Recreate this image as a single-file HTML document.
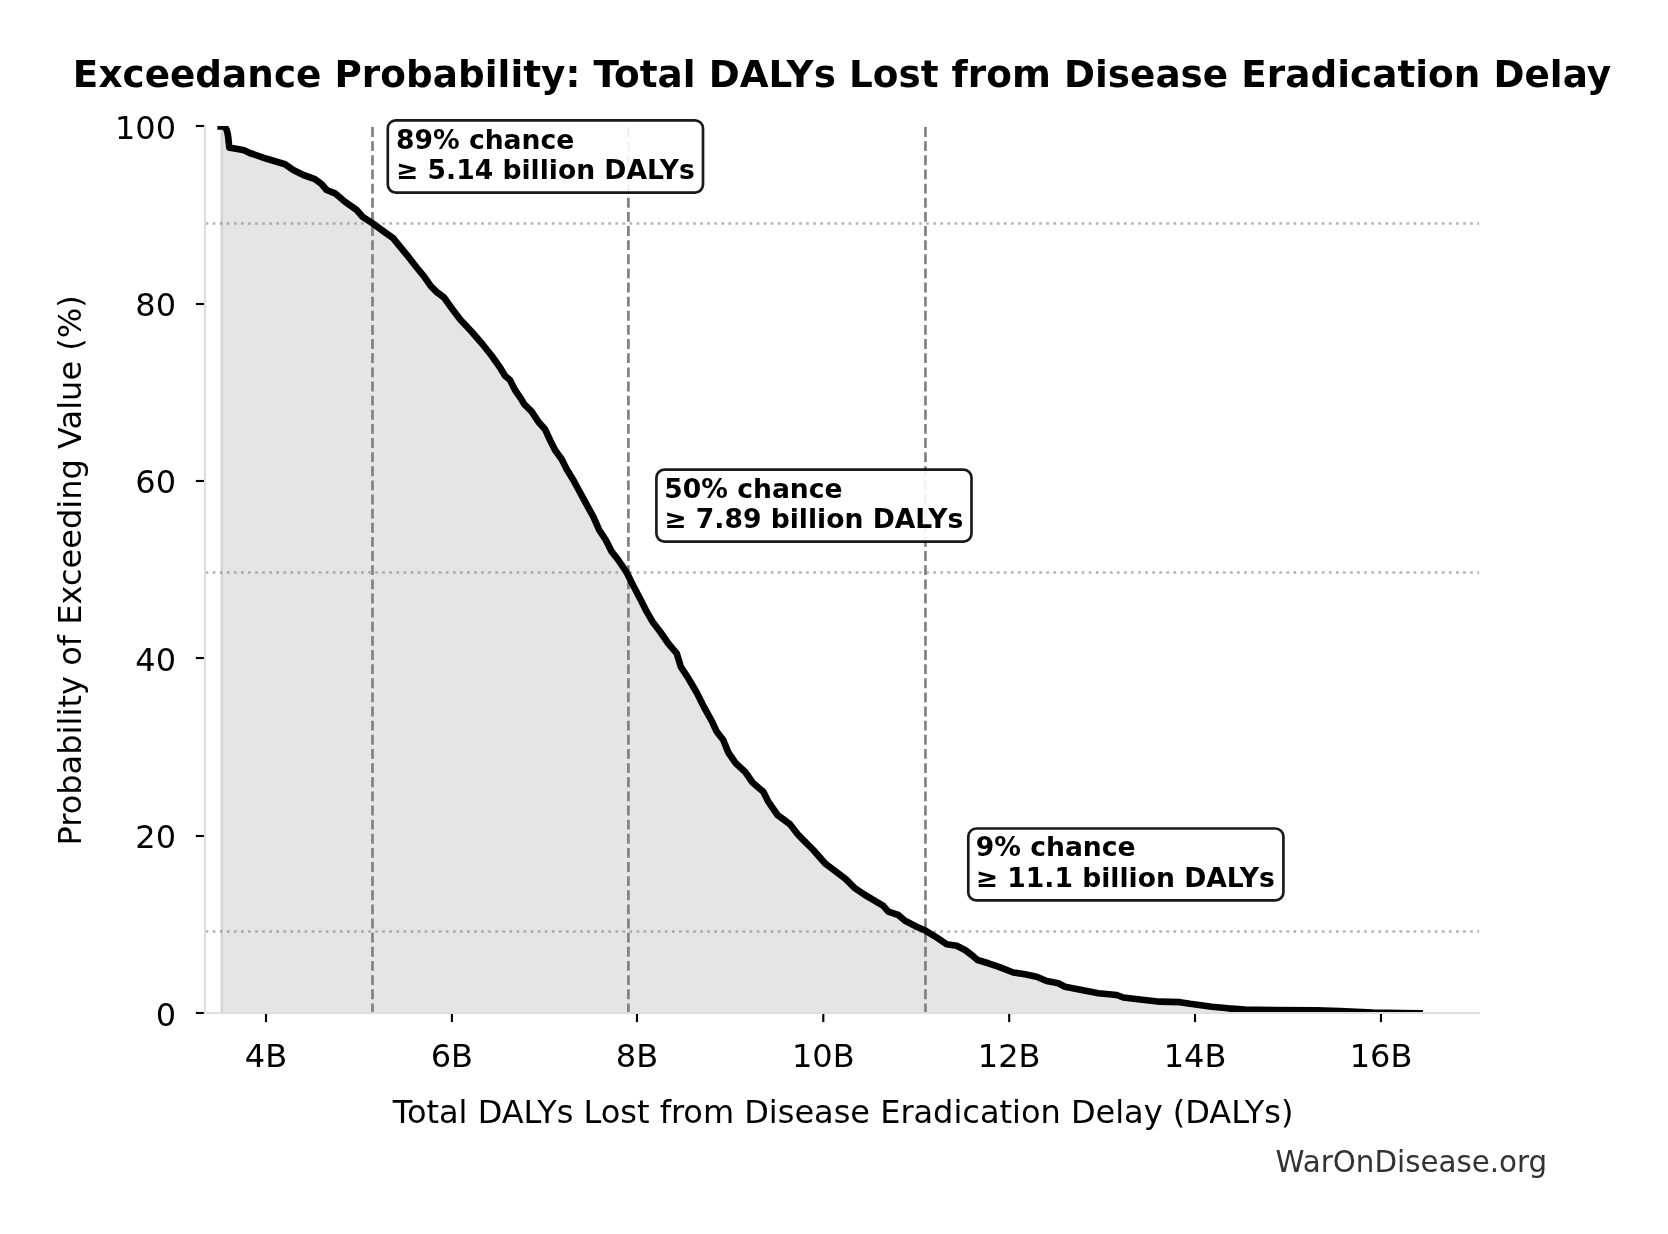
<!DOCTYPE html>
<html lang="en"><head><meta charset="utf-8">
<title>Exceedance Probability: Total DALYs Lost from Disease Eradication Delay</title>
<style>
html,body{margin:0;padding:0;background:#fff;}
body{width:1668px;height:1234px;overflow:hidden;}
svg{display:block;will-change:transform;}
text{font-family:"DejaVu Sans","Liberation Sans",sans-serif;fill:#000;}
.tk{font-size:32px;}
.lab{font-size:32px;}
.ann{font-size:26.6px;font-weight:bold;}
</style></head><body>
<svg width="1668" height="1234" viewBox="0 0 1668 1234">
<rect width="1668" height="1234" fill="#fff"/>
<defs><clipPath id="ax"><rect x="204.95" y="126.1" width="1274.95" height="886.9"/></clipPath></defs>

<g clip-path="url(#ax)">
<path d="M221.5,126.0 L222.6,126.3 L224.3,126.9 L225.7,128.2 L226.8,130.3 L227.6,133.3 L228.3,138.0 L228.8,143.0 L229.3,147.7 L233.2,148.2 L239.0,149.3 L244.0,150.2 L249.7,153.0 L256.7,155.3 L266.7,158.8 L275.0,161.3 L285.0,164.2 L293.3,170.0 L303.3,175.0 L315.0,179.2 L321.7,184.2 L326.7,190.0 L335.0,193.3 L345.0,201.7 L356.7,210.0 L362.5,216.7 L372.5,223.3 L381.7,230.0 L393.3,238.3 L400.0,246.7 L408.3,256.7 L416.7,267.5 L424.2,276.7 L430.8,286.2 L436.7,292.0 L444.0,297.5 L451.7,308.3 L460.0,319.2 L471.7,331.7 L482.5,344.2 L491.7,355.8 L500.0,367.5 L505.0,375.8 L510.0,380.0 L515.0,390.0 L520.8,398.3 L524.2,404.2 L531.7,411.7 L538.3,421.7 L545.0,429.2 L550.0,440.0 L555.0,450.0 L561.7,459.2 L566.7,469.2 L573.3,480.0 L579.5,491.5 L585.0,501.7 L593.3,516.7 L599.2,530.0 L605.8,540.0 L611.7,551.7 L618.3,560.0 L626.7,572.5 L633.3,585.8 L640.8,600.0 L646.7,611.7 L652.5,621.7 L660.0,631.5 L668.3,643.5 L676.7,653.3 L680.8,666.7 L688.3,678.3 L696.7,692.5 L704.2,707.5 L711.7,720.8 L716.7,731.7 L723.3,740.0 L728.3,752.5 L735.8,763.3 L745.0,771.7 L752.5,782.5 L763.3,791.7 L768.3,801.7 L777.5,815.0 L790.0,824.2 L797.5,834.0 L801.7,838.3 L813.3,850.0 L825.0,863.3 L835.0,870.8 L845.8,879.2 L855.0,888.3 L865.0,895.0 L875.0,900.8 L883.3,905.8 L888.3,911.7 L898.3,915.0 L905.0,920.8 L916.7,926.7 L925.8,930.8 L936.7,937.5 L946.7,944.2 L956.7,945.8 L965.0,950.0 L971.7,955.0 L977.5,960.0 L988.3,963.3 L998.3,966.7 L1013.3,972.5 L1025.0,974.2 L1036.7,976.7 L1046.7,981.0 L1058.3,983.3 L1065.0,986.7 L1081.7,990.0 L1098.3,993.3 L1116.7,995.0 L1123.3,997.5 L1140.0,999.5 L1160.0,1001.7 L1180.0,1002.2 L1190.0,1003.8 L1211.7,1006.7 L1228.3,1008.3 L1245.0,1009.5 L1273.3,1010.0 L1316.7,1010.3 L1340.0,1011.0 L1373.0,1012.6 L1400.0,1013.1 L1419.6,1013.4 L1419.6,1013.0 L221.5,1013.0 Z" fill="#000" fill-opacity="0.1"/>
<line x1="221.5" x2="221.5" y1="126.1" y2="1013.0" stroke="#000" stroke-opacity="0.1" stroke-width="2.67"/>
<line x1="205.7" x2="1479.1" y1="223.5" y2="223.5" stroke="#808080" stroke-opacity="0.6" stroke-width="2.67" stroke-dasharray="2.667 4.397"/>
<line x1="205.7" x2="1479.1" y1="572.5" y2="572.5" stroke="#808080" stroke-opacity="0.6" stroke-width="2.67" stroke-dasharray="2.667 4.397"/>
<line x1="205.7" x2="1479.1" y1="931.5" y2="931.5" stroke="#808080" stroke-opacity="0.6" stroke-width="2.67" stroke-dasharray="2.667 4.397"/>
<line x1="372.5" x2="372.5" y1="127.1" y2="1013.0" stroke="#808080" stroke-width="2.67" stroke-dasharray="9.867 4.267"/>
<line x1="628.4" x2="628.4" y1="127.1" y2="1013.0" stroke="#808080" stroke-width="2.67" stroke-dasharray="9.867 4.267"/>
<line x1="925.45" x2="925.45" y1="127.1" y2="1013.0" stroke="#808080" stroke-width="2.67" stroke-dasharray="9.867 4.267"/>
<path d="M220.7,126.3 L222.6,126.3 L224.3,126.9 L225.7,128.2 L226.8,130.3 L227.6,133.3 L228.3,138.0 L228.8,143.0 L229.3,147.7 L233.2,148.2 L239.0,149.3 L244.0,150.2 L249.7,153.0 L256.7,155.3 L266.7,158.8 L275.0,161.3 L285.0,164.2 L293.3,170.0 L303.3,175.0 L315.0,179.2 L321.7,184.2 L326.7,190.0 L335.0,193.3 L345.0,201.7 L356.7,210.0 L362.5,216.7 L372.5,223.3 L381.7,230.0 L393.3,238.3 L400.0,246.7 L408.3,256.7 L416.7,267.5 L424.2,276.7 L430.8,286.2 L436.7,292.0 L444.0,297.5 L451.7,308.3 L460.0,319.2 L471.7,331.7 L482.5,344.2 L491.7,355.8 L500.0,367.5 L505.0,375.8 L510.0,380.0 L515.0,390.0 L520.8,398.3 L524.2,404.2 L531.7,411.7 L538.3,421.7 L545.0,429.2 L550.0,440.0 L555.0,450.0 L561.7,459.2 L566.7,469.2 L573.3,480.0 L579.5,491.5 L585.0,501.7 L593.3,516.7 L599.2,530.0 L605.8,540.0 L611.7,551.7 L618.3,560.0 L626.7,572.5 L633.3,585.8 L640.8,600.0 L646.7,611.7 L652.5,621.7 L660.0,631.5 L668.3,643.5 L676.7,653.3 L680.8,666.7 L688.3,678.3 L696.7,692.5 L704.2,707.5 L711.7,720.8 L716.7,731.7 L723.3,740.0 L728.3,752.5 L735.8,763.3 L745.0,771.7 L752.5,782.5 L763.3,791.7 L768.3,801.7 L777.5,815.0 L790.0,824.2 L797.5,834.0 L801.7,838.3 L813.3,850.0 L825.0,863.3 L835.0,870.8 L845.8,879.2 L855.0,888.3 L865.0,895.0 L875.0,900.8 L883.3,905.8 L888.3,911.7 L898.3,915.0 L905.0,920.8 L916.7,926.7 L925.8,930.8 L936.7,937.5 L946.7,944.2 L956.7,945.8 L965.0,950.0 L971.7,955.0 L977.5,960.0 L988.3,963.3 L998.3,966.7 L1013.3,972.5 L1025.0,974.2 L1036.7,976.7 L1046.7,981.0 L1058.3,983.3 L1065.0,986.7 L1081.7,990.0 L1098.3,993.3 L1116.7,995.0 L1123.3,997.5 L1140.0,999.5 L1160.0,1001.7 L1180.0,1002.2 L1190.0,1003.8 L1211.7,1006.7 L1228.3,1008.3 L1245.0,1009.5 L1273.3,1010.0 L1316.7,1010.3 L1340.0,1011.0 L1373.0,1012.6 L1400.0,1013.1 L1419.6,1013.4" fill="none" stroke="#000" stroke-width="6.67" stroke-linejoin="round" stroke-linecap="square"/>
</g>
<line x1="266.0" x2="266.0" y1="1013.0" y2="1022.1" stroke="#000" stroke-width="2.13"/>
<line x1="451.9" x2="451.9" y1="1013.0" y2="1022.1" stroke="#000" stroke-width="2.13"/>
<line x1="637.0" x2="637.0" y1="1013.0" y2="1022.1" stroke="#000" stroke-width="2.13"/>
<line x1="823.3" x2="823.3" y1="1013.0" y2="1022.1" stroke="#000" stroke-width="2.13"/>
<line x1="1009.2" x2="1009.2" y1="1013.0" y2="1022.1" stroke="#000" stroke-width="2.13"/>
<line x1="1195.0" x2="1195.0" y1="1013.0" y2="1022.1" stroke="#000" stroke-width="2.13"/>
<line x1="1381.0" x2="1381.0" y1="1013.0" y2="1022.1" stroke="#000" stroke-width="2.13"/>
<line x1="195.85" x2="204.95" y1="1013.0" y2="1013.0" stroke="#000" stroke-width="2.13"/>
<line x1="195.85" x2="204.95" y1="836.0" y2="836.0" stroke="#000" stroke-width="2.13"/>
<line x1="195.85" x2="204.95" y1="658.0" y2="658.0" stroke="#000" stroke-width="2.13"/>
<line x1="195.85" x2="204.95" y1="481.0" y2="481.0" stroke="#000" stroke-width="2.13"/>
<line x1="195.85" x2="204.95" y1="304.0" y2="304.0" stroke="#000" stroke-width="2.13"/>
<line x1="195.85" x2="204.95" y1="126.0" y2="126.0" stroke="#000" stroke-width="2.13"/>
<line x1="204.95" x2="204.95" y1="125.03" y2="1014.07" stroke="#dedede" stroke-width="2.13"/>
<line x1="203.88" x2="1479.9" y1="1013.0" y2="1013.0" stroke="#dedede" stroke-width="2.13"/>
<text class="tk" x="266.0" y="1066.6" text-anchor="middle">4B</text>
<text class="tk" x="451.9" y="1066.6" text-anchor="middle">6B</text>
<text class="tk" x="637.0" y="1066.6" text-anchor="middle">8B</text>
<text class="tk" x="823.3" y="1066.6" text-anchor="middle">10B</text>
<text class="tk" x="1009.2" y="1066.6" text-anchor="middle">12B</text>
<text class="tk" x="1195.0" y="1066.6" text-anchor="middle">14B</text>
<text class="tk" x="1381.0" y="1066.6" text-anchor="middle">16B</text>
<text class="tk" x="176.0" y="1025.8" text-anchor="end">0</text>
<text class="tk" x="176.0" y="847.9" text-anchor="end">20</text>
<text class="tk" x="176.0" y="670.86" text-anchor="end">40</text>
<text class="tk" x="176.0" y="492.9" text-anchor="end">60</text>
<text class="tk" x="176.0" y="315.9" text-anchor="end">80</text>
<text class="tk" x="176.0" y="138.86" text-anchor="end">100</text>
<text class="lab" x="392.8" y="1123" textLength="900.6" lengthAdjust="spacing">Total DALYs Lost from Disease Eradication Delay (DALYs)</text>
<text class="lab" transform="translate(80.8,570.4) rotate(-90)" text-anchor="middle" textLength="550.4" lengthAdjust="spacing">Probability of Exceeding Value (%)</text>
<text x="72.85" y="87.0" textLength="1538.2" lengthAdjust="spacing" style="font-size:37.33px;font-weight:bold">Exceedance Probability: Total DALYs Lost from Disease Eradication Delay</text>
<text x="1547.2" y="1171.7" text-anchor="end" style="font-size:29.33px;fill:#333">WarOnDisease.org</text>
<rect x="387.80" y="120.30" width="315.20" height="72.30" rx="8" ry="8" fill="#fff" fill-opacity="0.9" stroke="#000" stroke-opacity="0.9" stroke-width="2.67"/>
<text class="ann" x="396.0" y="148.8">89% chance</text>
<text class="ann" x="396.0" y="179.2">≥ 5.14 billion DALYs</text>
<rect x="656.40" y="469.60" width="315.10" height="72.00" rx="8" ry="8" fill="#fff" fill-opacity="0.9" stroke="#000" stroke-opacity="0.9" stroke-width="2.67"/>
<text class="ann" x="664.3" y="497.7">50% chance</text>
<text class="ann" x="664.3" y="528.0">≥ 7.89 billion DALYs</text>
<rect x="968.30" y="828.50" width="315.10" height="71.90" rx="8" ry="8" fill="#fff" fill-opacity="0.9" stroke="#000" stroke-opacity="0.9" stroke-width="2.67"/>
<text class="ann" x="975.8" y="856.3">9% chance</text>
<text class="ann" x="975.8" y="886.9">≥ 11.1 billion DALYs</text>
</svg></body></html>
